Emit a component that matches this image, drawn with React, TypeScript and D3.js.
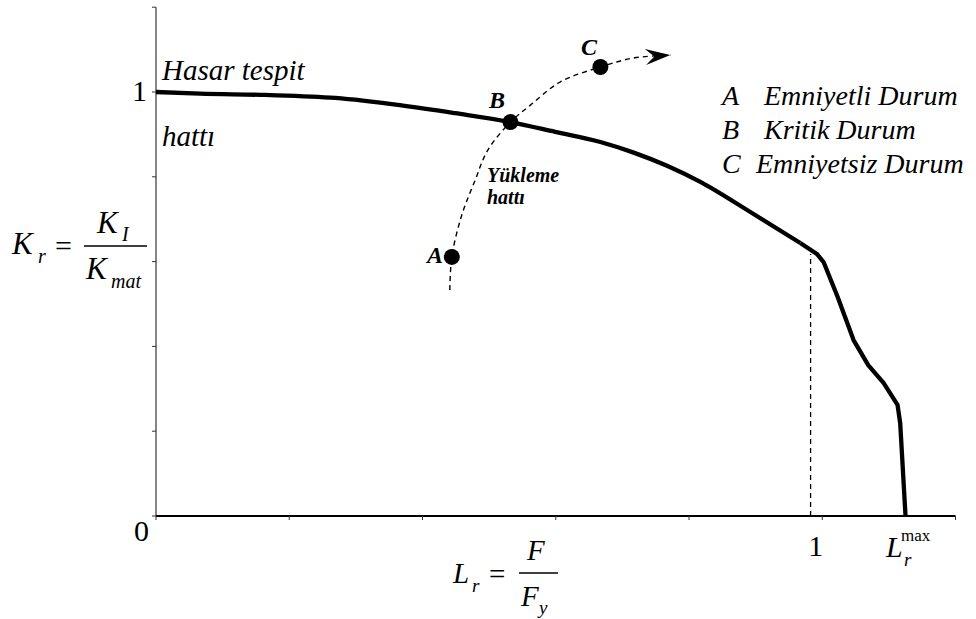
import * as d3 from 'd3';

// failure assessment line
const failLr = [0, 0.066, 0.164, 0.269, 0.366, 0.449, 0.532, 0.599, 0.667, 0.717, 0.767, 0.817, 0.892, 0.967, 0.992, 1.002, 1.023, 1.047, 1.069, 1.092, 1.113, 1.117, 1.125];
const failKr = [1.0, 0.996, 0.993, 0.986, 0.969, 0.95, 0.929, 0.906, 0.882, 0.857, 0.826, 0.788, 0.717, 0.644, 0.618, 0.599, 0.517, 0.415, 0.356, 0.314, 0.262, 0.219, 0];
const kneeIndex = 14;

// loading path
const loadLr = [0.441, 0.444, 0.459, 0.479, 0.498, 0.532, 0.562, 0.607, 0.667, 0.716, 0.772];
const loadKr = [0.533, 0.611, 0.71, 0.792, 0.863, 0.929, 0.969, 1.024, 1.059, 1.08, 1.087];

// marked states
const stateNames = ['A', 'B', 'C'];
const stateLr = [0.444, 0.532, 0.667];
const stateKr = [0.611, 0.929, 1.059];

const legendKeys = ['A', 'B', 'C'];
const legendTexts = ['Emniyetli Durum', 'Kritik Durum', 'Emniyetsiz Durum'];

const tickValues = [0, 0.2, 0.4, 0.6, 0.8, 1.0, 1.2];
const kneeLr = 0.99;
const kneeKr = 0.618;

const serif = '"Liberation Serif", serif';

export default function App() {
	const width = 976;
	const height = 619;

	const x = d3.scaleLinear().domain([0, 1.2]).range([156, 955.5]);
	const y = d3.scaleLinear().domain([0, 1.2]).range([516, 7.2]);

	// smooth part up to the knee, straight segments after it
	const smoothLine = d3
		.line<number>()
		.x((i) => x(failLr[i]))
		.y((i) => y(failKr[i]))
		.curve(d3.curveMonotoneX);
	const straightLine = d3
		.line<number>()
		.x((i) => x(failLr[i]))
		.y((i) => y(failKr[i]))
		.curve(d3.curveLinear);

	const loadLine = d3
		.line<number>()
		.x((i) => x(loadLr[i]))
		.y((i) => y(loadKr[i]))
		.curve(d3.curveCatmullRom);

	// arrow head at the end of the loading path
	const n = loadLr.length;
	const tx = x(loadLr[n - 1]);
	const ty = y(loadKr[n - 1]);
	const ang = Math.atan2(ty - y(loadKr[n - 2]), tx - x(loadLr[n - 2]));
	const rot = (dx: number, dy: number) =>
		`${tx + dx * Math.cos(ang) - dy * Math.sin(ang)},${ty + dx * Math.sin(ang) + dy * Math.cos(ang)}`;
	const arrow = `M${rot(0, 0)}L${rot(-25, -8)}L${rot(-16, 0)}L${rot(-25, 8)}Z`;

	return (
		<svg
			width={width}
			height={height}
			style={{ position: 'absolute', left: 0, top: 0, background: '#fff' }}
			fontFamily={serif}
		>
			{/* axes */}
			<line x1={x(0)} x2={x(0)} y1={y(0)} y2={y(1.2)} stroke="#333" strokeWidth={1.2} />
			<line x1={x(0)} x2={x(1.2)} y1={y(0)} y2={y(0)} stroke="#000" strokeWidth={1.8} />
			{tickValues.map((t) => (
				<line key={'yt' + t} x1={x(0) - 4} x2={x(0)} y1={y(t)} y2={y(t)} stroke="#333" strokeWidth={1} />
			))}
			{tickValues.map((t) => (
				<line key={'xt' + t} x1={x(t)} x2={x(t)} y1={y(0)} y2={y(0) + 4} stroke="#333" strokeWidth={1} />
			))}

			{/* tick labels */}
			<text x={x(0) - 24} y={y(1) + 9} fontSize={30}>1</text>
			<text x={x(0) - 22} y={y(0) + 25} fontSize={30}>0</text>
			<text x={x(1) - 14} y={y(0) + 40} fontSize={30}>1</text>
			<text x={886} y={557} fontSize={30} fontStyle="italic">L</text>
			<text x={901} y={541} fontSize={17}>max</text>
			<text x={904} y={566} fontSize={19} fontStyle="italic">r</text>

			{/* dashed line down from the knee */}
			<line
				x1={x(kneeLr) - 5}
				x2={x(kneeLr) - 5}
				y1={y(0)}
				y2={y(kneeKr)}
				stroke="#000"
				strokeWidth={1.3}
				strokeDasharray="5,4"
			/>

			{/* failure line */}
			<path d={smoothLine(d3.range(0, kneeIndex)) || ''} fill="none" stroke="#000" strokeWidth={4.3} strokeLinejoin="round" />
			<path d={straightLine(d3.range(kneeIndex - 1, failLr.length)) || ''} fill="none" stroke="#000" strokeWidth={4.3} strokeLinejoin="round" />

			{/* loading path */}
			<path d={loadLine(d3.range(loadLr.length)) || ''} fill="none" stroke="#000" strokeWidth={1.4} strokeDasharray="5,4" />
			<path d={arrow} fill="#000" />

			{stateNames.map((s, i) => (
				<circle key={s} cx={x(stateLr[i])} cy={y(stateKr[i])} r={8} fill="#000" />
			))}
			<text x={443} y={263} fontSize={24} fontWeight="bold" fontStyle="italic" textAnchor="end">A</text>
			<text x={489} y={108} fontSize={24} fontWeight="bold" fontStyle="italic">B</text>
			<text x={581} y={55} fontSize={24} fontWeight="bold" fontStyle="italic">C</text>
			<text x={487} y={182} fontSize={20} fontWeight="bold" fontStyle="italic">Yükleme</text>
			<text x={487} y={204} fontSize={20} fontWeight="bold" fontStyle="italic">hattı</text>

			{/* failure line label */}
			<text x={162} y={80} fontSize={29} fontStyle="italic">Hasar tespit</text>
			<text x={162} y={146} fontSize={29} fontStyle="italic">hattı</text>

			{/* legend */}
			{legendKeys.map((k, i) => (
				<g key={k}>
					<text x={722} y={105 + i * 34} fontSize={28} fontStyle="italic">{k}</text>
					<text x={i === 2 ? 756 : 764} y={105 + i * 34} fontSize={28} fontStyle="italic">{legendTexts[i]}</text>
				</g>
			))}

			{/* K_r = K_I / K_mat */}
			<text x={12} y={254} fontSize={31} fontStyle="italic">K</text>
			<text x={38} y={263} fontSize={20} fontStyle="italic">r</text>
			<text x={55} y={256} fontSize={30}>=</text>
			<line x1={84} x2={147} y1={246} y2={246} stroke="#000" strokeWidth={1.4} />
			<text x={97} y={233} fontSize={31} fontStyle="italic">K</text>
			<text x={122} y={241} fontSize={20} fontStyle="italic">I</text>
			<text x={86} y={279} fontSize={31} fontStyle="italic">K</text>
			<text x={111} y={288} fontSize={20} fontStyle="italic">mat</text>

			{/* L_r = F / F_y */}
			<text x={453} y={583} fontSize={29} fontStyle="italic">L</text>
			<text x={472} y={592} fontSize={19} fontStyle="italic">r</text>
			<text x={489} y={584} fontSize={29}>=</text>
			<line x1={519} x2={558} y1={573} y2={573} stroke="#000" strokeWidth={1.4} />
			<text x={527} y={560} fontSize={29} fontStyle="italic">F</text>
			<text x={521} y={606} fontSize={29} fontStyle="italic">F</text>
			<text x={539} y={614} fontSize={19} fontStyle="italic">y</text>
		</svg>
	);
}
